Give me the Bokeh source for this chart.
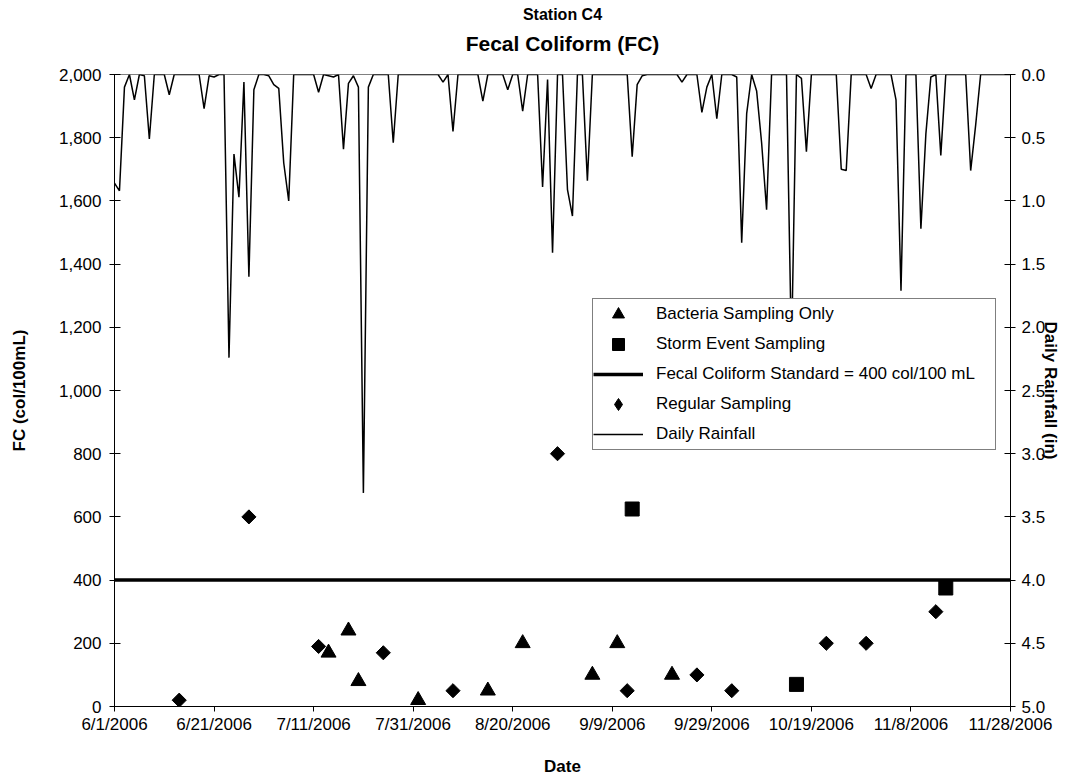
import math
import pandas as pd
from bokeh.plotting import figure
from bokeh.models import (Range1d, LinearAxis, FixedTicker, NumeralTickFormatter,
                          Legend, LegendItem, Title)
from bokeh.embed import file_html
from bokeh.resources import INLINE

# ---- data -------------------------------------------------------------
station = "Station C4"
chart_title = "Fecal Coliform (FC)"

# daily rainfall (inches), one value per day starting 6/1/2006
rain_start = "2006-06-01"
rain_in = [
    0.86, 0.92, 0.10, 0.00, 0.20, 0.00, 0.01, 0.51, 0.00, 0.00,
    0.00, 0.16, 0.00, 0.00, 0.00, 0.00, 0.00, 0.00, 0.27, 0.01,
    0.02, 0.00, 0.00, 2.24, 0.63, 0.97, 0.06, 1.60, 0.12, 0.00,
    0.00, 0.01, 0.08, 0.11, 0.70, 1.00, 0.00, 0.00, 0.00, 0.00,
    0.00, 0.14, 0.00, 0.01, 0.02, 0.00, 0.59, 0.07, 0.01, 0.10,
    3.31, 0.10, 0.00, 0.00, 0.00, 0.00, 0.54, 0.00, 0.00, 0.00,
    0.00, 0.00, 0.00, 0.00, 0.00, 0.00, 0.06, 0.00, 0.45, 0.00,
    0.00, 0.00, 0.00, 0.00, 0.21, 0.00, 0.00, 0.00, 0.00, 0.12,
    0.00, 0.00, 0.29, 0.00, 0.00, 0.00, 0.89, 0.04, 1.41, 0.00,
    0.00, 0.91, 1.12, 0.00, 0.00, 0.84, 0.00, 0.00, 0.00, 0.00,
    0.00, 0.00, 0.00, 0.00, 0.65, 0.08, 0.01, 0.00, 0.00, 0.00,
    0.00, 0.00, 0.00, 0.00, 0.06, 0.00, 0.00, 0.00, 0.30, 0.10,
    0.00, 0.35, 0.00, 0.00, 0.00, 0.02, 1.33, 0.31, 0.00, 0.13,
    0.54, 1.07, 0.00, 0.00, 0.00, 0.00, 2.20, 0.00, 0.03, 0.61,
    0.00, 0.00, 0.00, 0.00, 0.00, 0.00, 0.75, 0.76, 0.00, 0.00,
    0.00, 0.00, 0.11, 0.00, 0.00, 0.00, 0.00, 0.20, 1.71, 0.00,
    0.00, 0.00, 1.22, 0.47, 0.02, 0.00, 0.64, 0.00, 0.00, 0.00,
    0.00, 0.00, 0.76, 0.40, 0.00, 0.00, 0.00, 0.00, 0.00, 0.00,
    0.00,
]

regular_dates = ["2006-06-14", "2006-06-28", "2006-07-12", "2006-07-25",
                 "2006-08-08", "2006-08-29", "2006-09-12", "2006-09-26",
                 "2006-10-03", "2006-10-22", "2006-10-30", "2006-11-13"]
regular_fc = [20, 600, 190, 170, 50, 800, 50, 100, 50, 200, 200, 300]

bacteria_dates = ["2006-07-14", "2006-07-18", "2006-07-20", "2006-08-01",
                  "2006-08-15", "2006-08-22", "2006-09-05", "2006-09-10",
                  "2006-09-21"]
bacteria_fc = [170, 240, 80, 20, 50, 200, 100, 200, 100]

storm_dates = ["2006-09-13", "2006-10-16", "2006-11-15"]
storm_fc = [625, 70, 375]

fc_standard = 400
axis_start, axis_end = "2006-06-01", "2006-11-28"
date_ticks = pd.date_range(axis_start, axis_end, freq="20D")
fc_ticks = list(range(0, 2001, 200))
rain_ticks = [0.0, 0.5, 1.0, 1.5, 2.0, 2.5, 3.0, 3.5, 4.0, 4.5, 5.0]


def to_ms(dates):
    idx = pd.DatetimeIndex(pd.to_datetime(dates))
    return [float((d - pd.Timestamp("1970-01-01")) / pd.Timedelta(milliseconds=1)) for d in idx]


rain_x = to_ms(pd.date_range(rain_start, periods=len(rain_in), freq="D"))
reg_x = to_ms(regular_dates)
bac_x = to_ms(bacteria_dates)
storm_x = to_ms(storm_dates)
x0, x1 = to_ms([axis_start, axis_end])
tick_x = to_ms(date_ticks)
tick_labels = {int(t): f"{d.month}/{d.day}/{d.year}" for t, d in zip(tick_x, date_ticks)}

FONT = "Liberation Sans"
FS = "17px"

# ---- figure -----------------------------------------------------------
p = figure(width=1076, height=782, output_backend="svg", toolbar_location=None,
           x_range=Range1d(x0, x1), y_range=Range1d(0, 2000),
           min_border_left=114, min_border_right=66,
           min_border_top=74, min_border_bottom=76,
           background_fill_color="white", border_fill_color="white")
p.extra_y_ranges = {"rain": Range1d(5, 0)}
p.xgrid.visible = False
p.ygrid.visible = False
p.outline_line_color = "#808080"
p.outline_line_width = 1

# titles stack outward from the plot frame: spacer, main title, station name
p.add_layout(Title(text=" ", text_font_size="1px", standoff=10), "above")
p.add_layout(Title(text=chart_title, align="center", text_font=FONT, text_color="black",
                   text_font_size="21px", text_font_style="bold", standoff=14), "above")
p.add_layout(Title(text=station, align="center", text_font=FONT, text_color="black",
                   text_font_size="16px", text_font_style="bold", standoff=0), "above")

# x axis
xa = p.xaxis[0]
xa.ticker = FixedTicker(ticks=tick_x)
xa.major_label_overrides = tick_labels
xa.axis_label = "Date"
xa.major_tick_in = 0
xa.major_tick_out = 5
xa.major_label_standoff = 3
xa.axis_label_standoff = 20

# left axis
ya = p.yaxis[0]
ya.ticker = FixedTicker(ticks=fc_ticks)
ya.formatter = NumeralTickFormatter(format="0,0")
ya.axis_label = "FC (col/100mL)"
ya.major_tick_in = 6
ya.major_tick_out = 5
ya.major_label_standoff = 8
ya.axis_label_standoff = 27

# right axis (inverted rainfall)
ra = LinearAxis(y_range_name="rain", ticker=FixedTicker(ticks=rain_ticks),
                formatter=NumeralTickFormatter(format="0.0"),
                axis_label="Daily Rainfall (in)")
ra.major_tick_in = 6
ra.major_tick_out = 5
ra.major_label_standoff = 6
ra.axis_label_standoff = -7
p.add_layout(ra, "right")

for ax in (xa, ya, ra):
    ax.axis_line_color = "black"
    ax.axis_line_width = 1
    ax.major_tick_line_color = "black"
    ax.minor_tick_line_color = None
    ax.major_label_text_font = FONT
    ax.major_label_text_font_size = FS
    ax.major_label_text_color = "black"
    ax.axis_label_text_font = FONT
    ax.axis_label_text_font_size = FS
    ax.axis_label_text_font_style = "bold"
    ax.axis_label_text_color = "black"

# ---- glyphs -----------------------------------------------------------
rain_r = p.line(rain_x, rain_in, y_range_name="rain", line_color="black", line_width=1.5)
std_r = p.line([x0, x1], [fc_standard, fc_standard], line_color="black", line_width=3.5)
bac_r = p.scatter(bac_x, bacteria_fc, marker="triangle", size=15,
                  fill_color="black", line_color="black")
storm_r = p.scatter(storm_x, storm_fc, marker="square", size=14,
                    fill_color="black", line_color="black")
# regular samples: a diamond marker (used as the legend key) covered by a
# square turned 45 degrees, which gives the wider diamond shape
reg_key = p.scatter(reg_x, regular_fc, marker="diamond", size=12,
                    fill_color="black", line_color="black")
reg_r = p.scatter(reg_x, regular_fc, marker="square", size=10, angle=math.pi / 4,
                  fill_color="black", line_color="black")

legend = Legend(items=[
    LegendItem(label="Bacteria Sampling Only", renderers=[bac_r]),
    LegendItem(label="Storm Event Sampling", renderers=[storm_r]),
    LegendItem(label="Fecal Coliform Standard = 400 col/100 mL", renderers=[std_r]),
    LegendItem(label="Regular Sampling", renderers=[reg_key]),
    LegendItem(label="Daily Rainfall", renderers=[rain_r]),
], location=(478, 256))
legend.padding = 0
legend.margin = 0
legend.spacing = 0
legend.glyph_height = 30
legend.label_height = 30
legend.glyph_width = 50
legend.label_standoff = 13
legend.label_width = 339
legend.label_text_font = FONT
legend.label_text_font_size = FS
legend.label_text_color = "black"
legend.border_line_color = "black"
legend.border_line_width = 1
legend.background_fill_color = "white"
legend.background_fill_alpha = 1.0
p.add_layout(legend, "center")

open("out.html", "w").write(file_html(p, INLINE))
